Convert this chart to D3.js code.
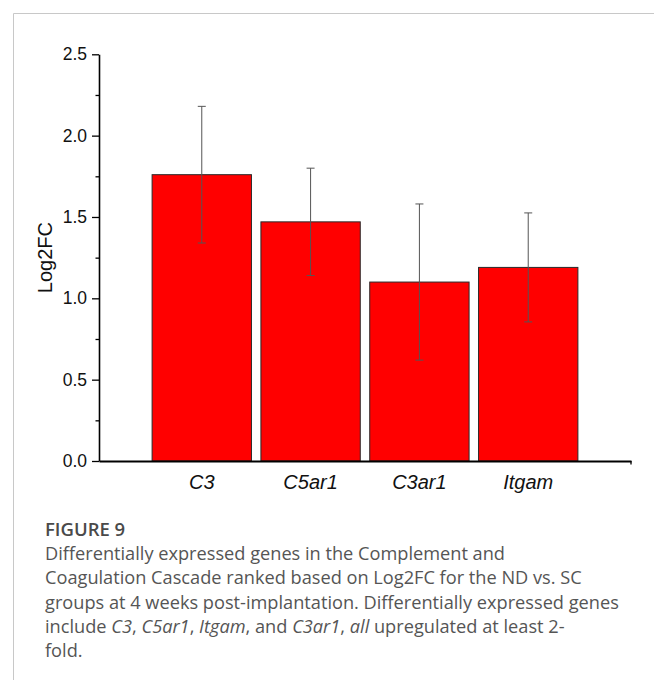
<!DOCTYPE html>
<html>
<head>
<meta charset="utf-8">
<script src="https://cdn.jsdelivr.net/npm/d3@7"></script>
<style>
  html, body { margin: 0; padding: 0; background: #fff; }
  svg { display: block; }
</style>
</head>
<body>
<svg id="fig" width="654" height="680"></svg>
<script>
// Gene categories and their Log2FC with error
const genes = ["C3", "C5ar1", "C3ar1", "Itgam"];
const log2fc = [1.76, 1.47, 1.10, 1.19];
const errors = [0.42, 0.33, 0.48, 0.335];
const yTicks = [0, 0.5, 1.0, 1.5, 2.0, 2.5];
const yMinorTicks = [0.25, 0.75, 1.25, 1.75, 2.25];

const captionTitle = "FIGURE 9";
// Caption lines; segments flagged true are italic
const captionLines = [
  [["Differentially expressed genes in the Complement and", false]],
  [["Coagulation Cascade ranked based on Log2FC for the ND vs. SC", false]],
  [["groups at 4 weeks post-implantation. Differentially expressed genes", false]],
  [["include ", false], ["C3", true], [", ", false], ["C5ar1", true], [", ", false], ["Itgam", true], [", and ", false], ["C3ar1", true], [", ", false], ["all", true], [" upregulated at least 2-", false]],
  [["fold.", false]]
];

const svg = d3.select("#fig");

// Panel frame (top and left rules)
svg.append("line").attr("x1", 13.5).attr("x2", 654).attr("y1", 13.5).attr("y2", 13.5)
  .attr("stroke", "#c8c8c8").attr("stroke-width", 1);
svg.append("line").attr("x1", 13.5).attr("x2", 13.5).attr("y1", 13.5).attr("y2", 680)
  .attr("stroke", "#c8c8c8").attr("stroke-width", 1);

const axisX0 = 99, axisX1 = 631;
const yTop = 54.3, yBottom = 461;

const x = d3.scaleBand().domain(genes).range([axisX0, axisX1])
  .paddingInner(0.087).paddingOuter(0.488);
const y = d3.scaleLinear().domain([0, 2.5]).range([yBottom, yTop]);

const g = svg.append("g");

// Bars
g.selectAll("rect.bar").data(genes).enter().append("rect")
  .attr("class", "bar")
  .attr("x", d => x(d))
  .attr("width", x.bandwidth())
  .attr("y", (d, i) => y(log2fc[i]))
  .attr("height", (d, i) => y(0) - y(log2fc[i]))
  .attr("fill", "#ff0000")
  .attr("stroke", "#2a2a2a")
  .attr("stroke-width", 1);

// Error bars
const eb = g.selectAll("g.err").data(genes).enter().append("g").attr("class", "err");
eb.append("line")
  .attr("x1", d => x(d) + x.bandwidth() / 2)
  .attr("x2", d => x(d) + x.bandwidth() / 2)
  .attr("y1", (d, i) => y(log2fc[i] + errors[i]))
  .attr("y2", (d, i) => y(log2fc[i] - errors[i]))
  .attr("stroke", "#555").attr("stroke-width", 1);
[1, -1].forEach(s => {
  eb.append("line")
    .attr("x1", d => x(d) + x.bandwidth() / 2 - 4)
    .attr("x2", d => x(d) + x.bandwidth() / 2 + 4)
    .attr("y1", (d, i) => y(log2fc[i] + s * errors[i]))
    .attr("y2", (d, i) => y(log2fc[i] + s * errors[i]))
    .attr("stroke", "#555").attr("stroke-width", 1);
});

// Y axis with major and minor ticks
const yAxis = d3.axisLeft(y).tickValues(yTicks).tickFormat(d3.format(".1f"))
  .tickSizeInner(7).tickSizeOuter(0).tickPadding(5);
const yG = svg.append("g").attr("transform", `translate(${axisX0},0)`).call(yAxis);
yG.select(".domain").attr("stroke", "#000").attr("stroke-width", 1.6);
yG.selectAll(".tick line").attr("stroke", "#000").attr("stroke-width", 1.3);
yG.selectAll(".tick text").attr("font-family", "Liberation Sans, Arial, sans-serif")
  .attr("font-size", 17.5).attr("fill", "#111");
const yMinor = d3.axisLeft(y).tickValues(yMinorTicks).tickFormat("").tickSizeInner(3.5).tickSizeOuter(0);
const yMG = svg.append("g").attr("transform", `translate(${axisX0},0)`).call(yMinor);
yMG.select(".domain").remove();
yMG.selectAll(".tick line").attr("stroke", "#000").attr("stroke-width", 1.3);

// X axis
const xAxis = d3.axisBottom(x).tickSize(0).tickPadding(14).tickSizeOuter(0);
const xG = svg.append("g").attr("transform", `translate(0,${yBottom})`).call(xAxis);
xG.select(".domain").attr("stroke", "#000").attr("stroke-width", 1.8);
xG.selectAll(".tick text").attr("font-family", "Liberation Sans, Arial, sans-serif")
  .attr("font-size", 20).attr("font-style", "italic").attr("fill", "#111");
svg.append("line").attr("x1", axisX1).attr("x2", axisX1).attr("y1", yBottom).attr("y2", yBottom + 3.5)
  .attr("stroke", "#000").attr("stroke-width", 1.3);

// Y axis title
svg.append("text")
  .attr("transform", `translate(52,${(yTop + yBottom) / 2}) rotate(-90)`)
  .attr("text-anchor", "middle")
  .attr("font-family", "Liberation Sans, Arial, sans-serif")
  .attr("font-size", 20).attr("fill", "#111")
  .text("Log2FC");

// Caption
const capX = 45;
svg.append("text").attr("x", capX).attr("y", 536)
  .attr("font-family", "Open Sans, sans-serif").attr("font-size", 18.5)
  .attr("font-weight", 600).attr("fill", "#4a4a4a")
  .text(captionTitle);

const lineG = svg.append("g").attr("font-family", "Open Sans, sans-serif")
  .attr("font-size", 18.2).attr("fill", "#555");
captionLines.forEach((segs, li) => {
  const t = lineG.append("text").attr("x", capX).attr("y", 560 + li * 24.3);
  segs.forEach(([txt, it]) => {
    t.append("tspan").attr("font-style", it ? "italic" : "normal").text(txt);
  });
});
</script>
</body>
</html>
